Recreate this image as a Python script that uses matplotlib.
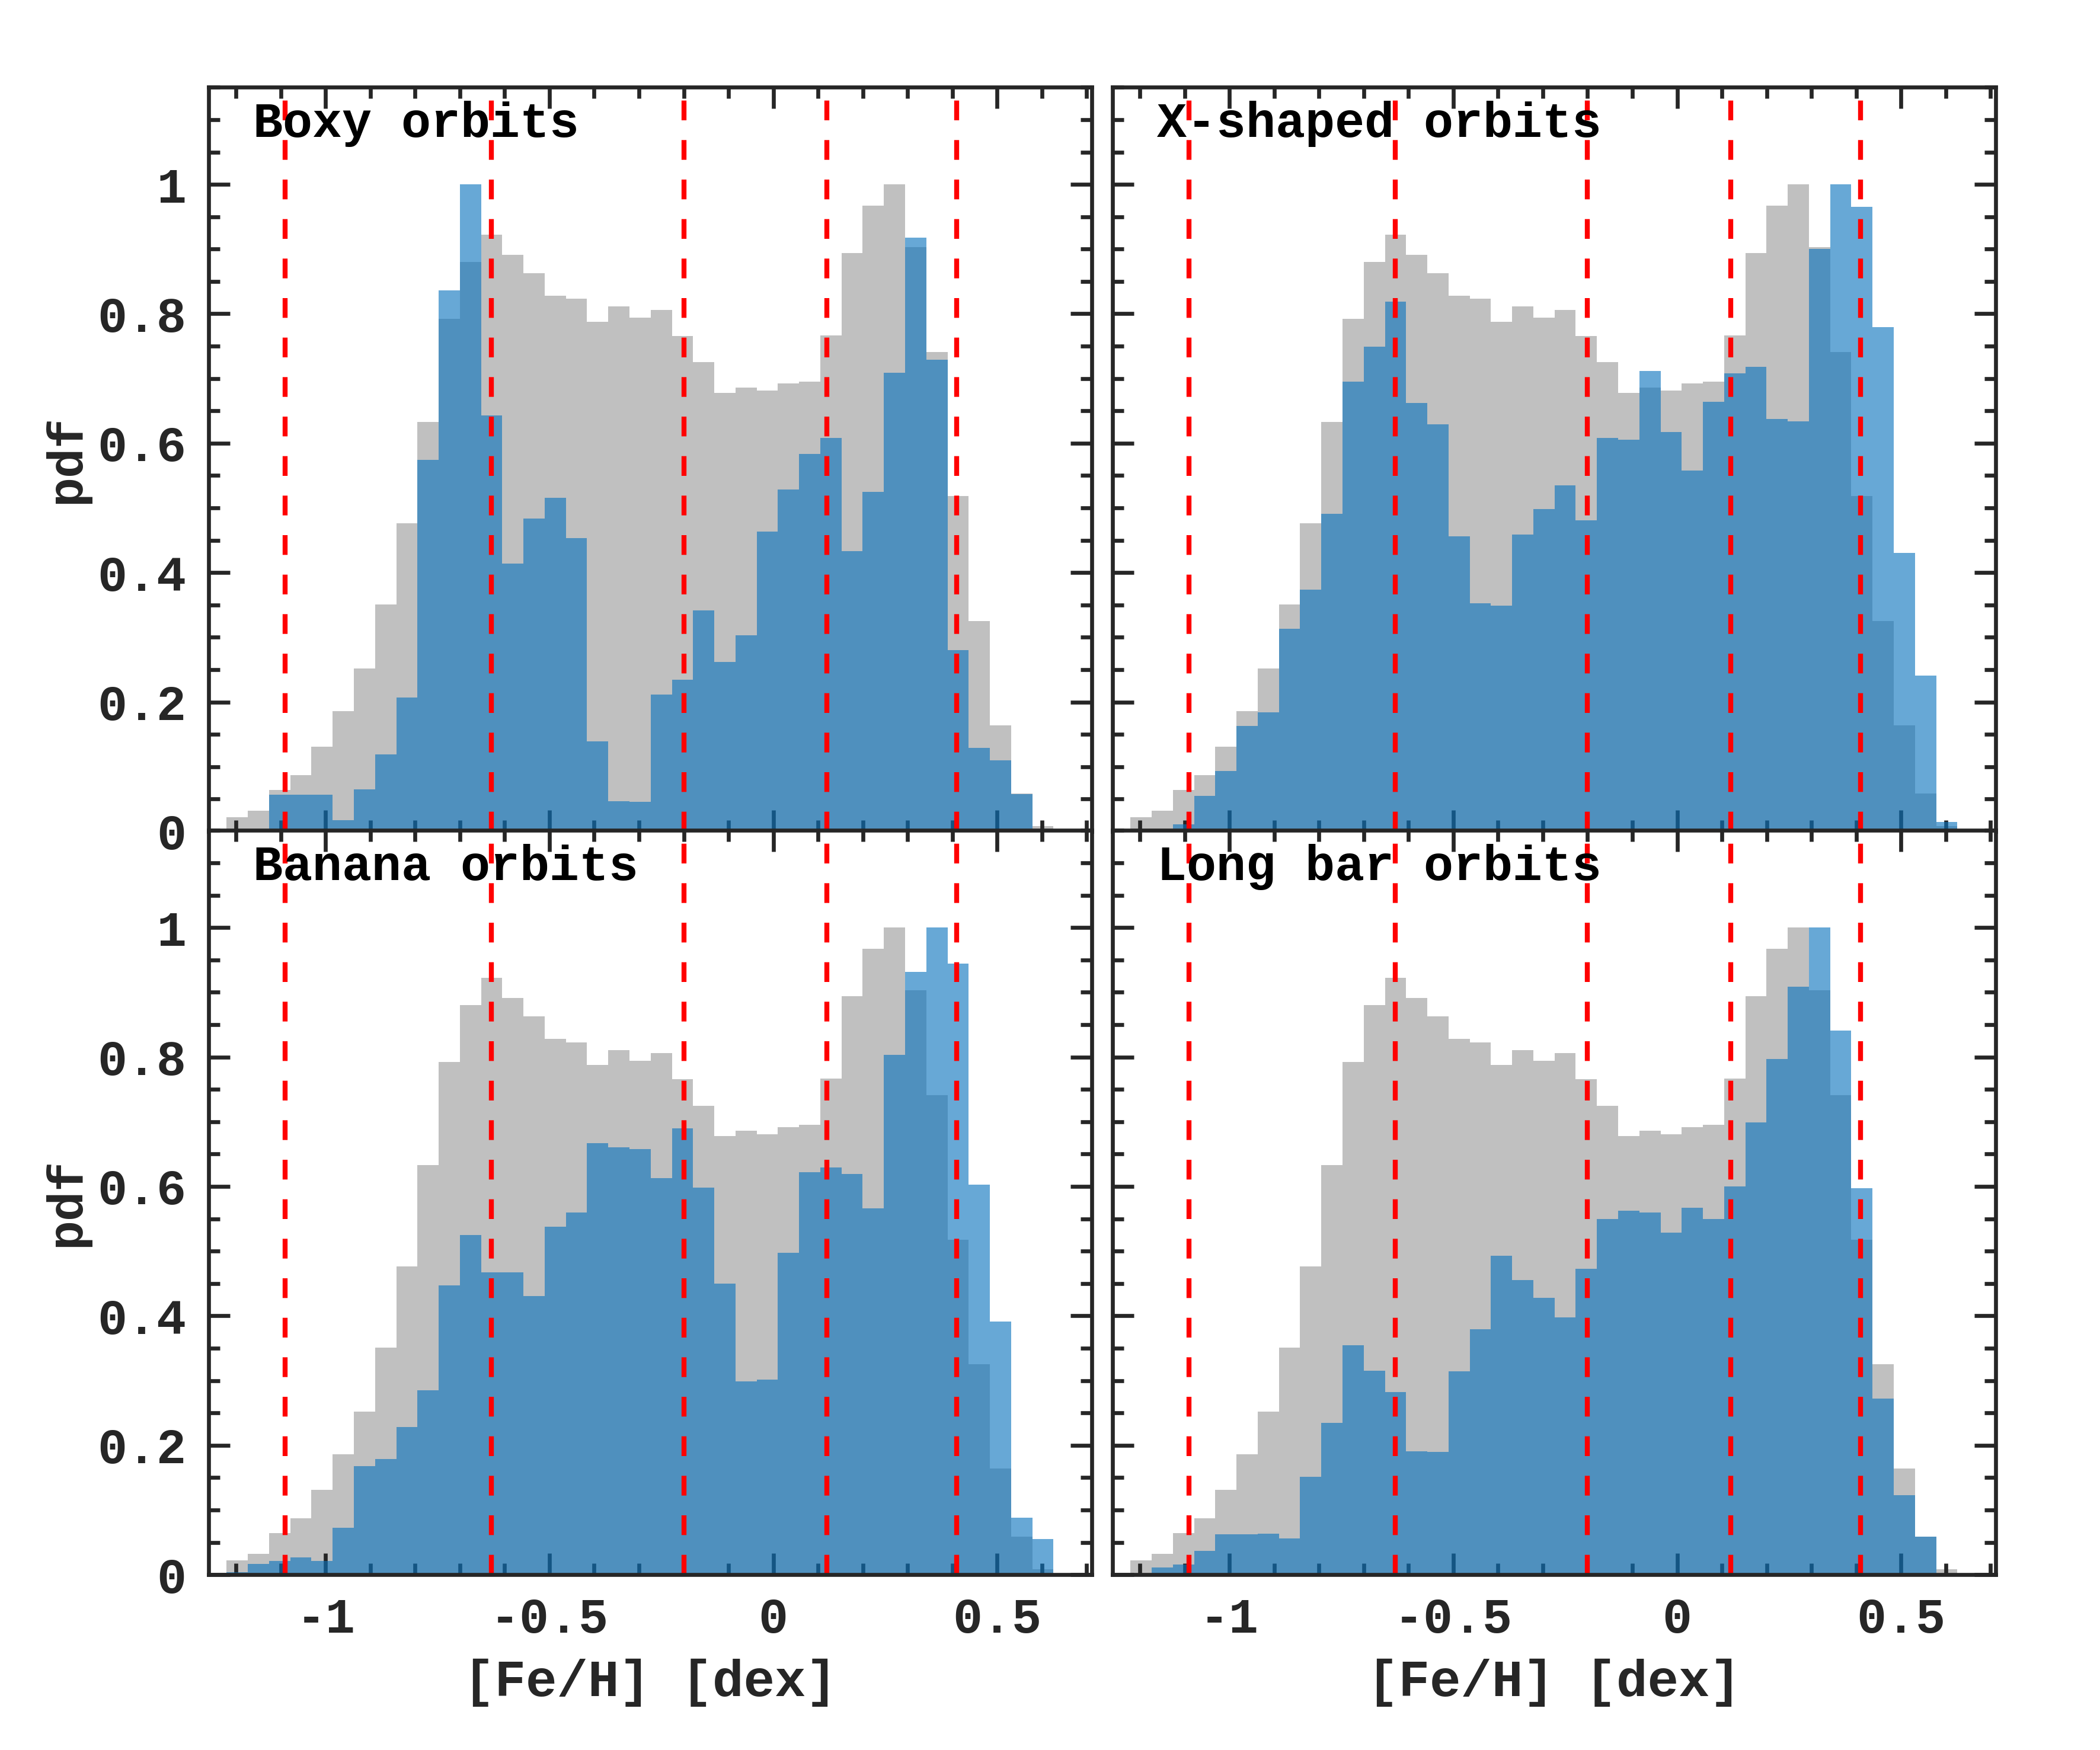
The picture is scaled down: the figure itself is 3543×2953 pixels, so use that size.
import numpy as np
import matplotlib
matplotlib.use("Agg")
import matplotlib.pyplot as plt
from matplotlib.ticker import MultipleLocator, FuncFormatter

# bins of the metallicity histograms (39 bins)
bin_edges = np.linspace(-1.221, 0.626, 40)

# whole sample, normalised to its peak
all_stars = [0.022, 0.032, 0.064, 0.087, 0.131, 0.186, 0.252, 0.351, 0.476, 0.633,
             0.792, 0.880, 0.922, 0.891, 0.863, 0.828, 0.823, 0.788, 0.811, 0.794,
             0.806, 0.766, 0.725, 0.678, 0.686, 0.681, 0.692, 0.695, 0.767, 0.894,
             0.967, 1.000, 0.903, 0.741, 0.518, 0.325, 0.164, 0.059, 0.008]

boxy = [0.0, 0.0, 0.057, 0.057, 0.057, 0.017, 0.065, 0.119, 0.207, 0.574,
        0.836, 1.000, 0.643, 0.414, 0.484, 0.516, 0.453, 0.139, 0.047, 0.046,
        0.212, 0.234, 0.342, 0.262, 0.303, 0.463, 0.528, 0.583, 0.608, 0.433,
        0.525, 0.709, 0.918, 0.729, 0.280, 0.129, 0.110, 0.058, 0.0]

xshaped = [0.0, 0.0, 0.011, 0.055, 0.093, 0.163, 0.184, 0.313, 0.374, 0.491,
           0.695, 0.749, 0.819, 0.662, 0.629, 0.456, 0.353, 0.349, 0.459, 0.498,
           0.535, 0.481, 0.608, 0.605, 0.712, 0.617, 0.558, 0.664, 0.708, 0.718,
           0.637, 0.634, 0.900, 1.000, 0.965, 0.779, 0.430, 0.241, 0.015]

banana = [0.004, 0.017, 0.021, 0.027, 0.021, 0.072, 0.168, 0.179, 0.228, 0.285,
          0.447, 0.525, 0.467, 0.467, 0.431, 0.538, 0.560, 0.667, 0.660, 0.658,
          0.613, 0.690, 0.598, 0.450, 0.299, 0.301, 0.497, 0.622, 0.629, 0.619,
          0.566, 0.803, 0.932, 1.000, 0.944, 0.603, 0.391, 0.088, 0.055]

longbar = [0.0, 0.011, 0.016, 0.037, 0.062, 0.062, 0.063, 0.056, 0.151, 0.235,
           0.355, 0.315, 0.282, 0.191, 0.190, 0.314, 0.379, 0.493, 0.455, 0.428,
           0.398, 0.473, 0.550, 0.562, 0.560, 0.529, 0.567, 0.550, 0.600, 0.699,
           0.797, 0.909, 1.000, 0.841, 0.597, 0.272, 0.123, 0.059, 0.0]

titles = ["Boxy orbits", "X-shaped orbits", "Banana orbits", "Long bar orbits"]
families = [boxy, xshaped, banana, longbar]

# [Fe/H] split values (dashed lines)
feh_cuts = [-1.09, -0.63, -0.20, 0.12, 0.41]

plt.rcParams["font.family"] = ["Liberation Mono", "DejaVu Sans Mono"]
plt.rcParams["font.weight"] = "bold"
INK = "#262626"

fig = plt.figure(figsize=(3543 / 300, 2953 / 300), dpi=300)

W, H = 0.4206, 0.4252
lefts = [0.0994, 0.5298]
bottoms = [0.5249, 0.1002]

for k, (title, fam) in enumerate(zip(titles, families)):
    row, col = divmod(k, 2)
    ax = fig.add_axes([lefts[col], bottoms[row], W, H])

    ax.stairs(all_stars, bin_edges, fill=True, color="#c0c0c0", zorder=1)
    ax.stairs(fam, bin_edges, fill=True, color="#0a73be", alpha=0.62, zorder=2)
    for c in feh_cuts:
        ax.axvline(c, color="red", lw=2, ls=(0, (4, 4)), zorder=3)

    ax.set_xlim(-1.261, 0.712)
    ax.set_ylim(0, 1.15)

    ax.xaxis.set_major_locator(MultipleLocator(0.5))
    ax.xaxis.set_minor_locator(MultipleLocator(0.1))
    ax.yaxis.set_major_locator(MultipleLocator(0.2))
    ax.yaxis.set_minor_locator(MultipleLocator(0.05))
    fmt = FuncFormatter(lambda v, p: "%g" % round(v, 2))
    ax.xaxis.set_major_formatter(fmt)
    ax.yaxis.set_major_formatter(fmt)

    ax.tick_params(which="both", direction="in", top=True, right=True,
                   color=INK, labelcolor=INK, labelsize=20, pad=9)
    ax.tick_params(which="major", length=8.6, width=1.6)
    ax.tick_params(which="minor", length=4.6, width=1.6)
    for sp in ax.spines.values():
        sp.set_linewidth(1.6)
        sp.set_color(INK)
        sp.set_zorder(5)

    if col == 1:
        ax.tick_params(labelleft=False)
    else:
        ax.set_ylabel("pdf", fontsize=20, fontweight="bold", color=INK)
        ax.yaxis.set_label_coords(-0.135, 0.5)
    if row == 0:
        ax.tick_params(labelbottom=False)
    else:
        ax.set_xlabel("[Fe/H] [dex]", fontsize=21, fontweight="bold", color=INK)
        ax.xaxis.set_label_coords(0.5, -0.113)

    ax.text(0.05, 0.982, title, transform=ax.transAxes, ha="left", va="top",
            fontsize=20, fontweight="bold", color="black", zorder=6)

fig.savefig("out.png", dpi=300)
